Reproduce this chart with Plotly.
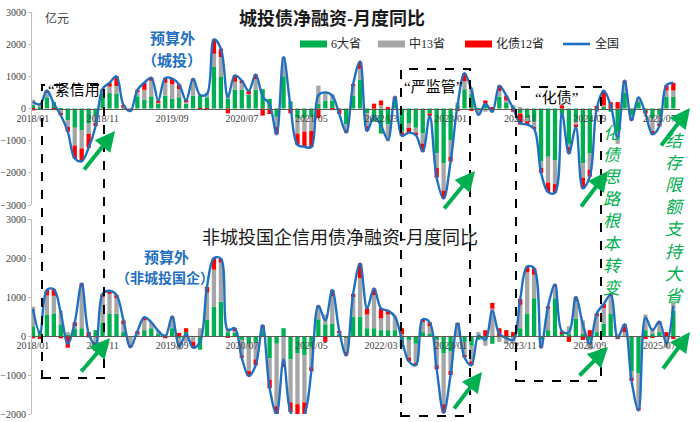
import plotly.graph_objects as go

# ---------------- data (亿元, monthly 2018/01 - 2025/09) ----------------
months = [f"{y}/{m:02d}" for y in range(2018, 2026) for m in range(1, 13)][:93]
tick_labels = ["2018/01", "2018/11", "2019/09", "2020/07", "2021/05",
               "2022/03", "2023/01", "2023/11", "2024/09", "2025/07"]

# 城投债净融资-月度同比
top_g6 = [120, 50, 350, 200, -50, -370, -600, -670, -470, -250,
          450, 480, 450, 0, 0, 380, 280, 380, 150, 400,
          300, 350, 150, 400, 400, 350, 1290, 1000, 300, 590,
          590, 420, 580, 600, 300, -260, 1000, 220, -310, -300,
          -280, 150, 250, 250, 0, -500, 400, 900, -150, -400,
          -780, -500, 250, -720, -450, -600, -780, -150, -1400, -1700,
          -1000, 100, 600, 450, -50, 150, 0, 370, 200, 50,
          -150, -300, -400, -1650, -1500, -1600, -200, -1100, -400, -1700,
          -1400, -50, 50, -100, -700, 500, -200, 200, -100, -300,
          -200, 360, 360]
top_m13 = [150, 60, 150, 0, -100, -200, -550, -570, -320, -200,
           100, 200, 250, 30, -20, 150, 300, 480, 30, 400,
           450, 250, 80, 450, 50, 150, 410, 600, 200, 240,
           200, 30, 330, 0, 0, -310, 600, 0, -470, -420,
           -420, 560, 250, 200, -50, -150, 300, 330, -400, 0,
           100, -520, 0, -30, -150, -150, -310, 0, -450, -850,
           -500, 80, 250, 200, -150, -100, -120, 170, 50, 50,
           50, -100, -200, -200, -800, -750, -50, -100, -100, -450,
           -500, -30, 50, 0, -400, 300, -100, 150, 0, -400,
           -300, 200, 200]
top_h12 = [-60, 20, 60, -50, -60, -150, -400, -400, -430, -100,
           60, 120, 300, 80, -60, 50, 220, 100, 70, 150,
           180, 150, 20, 80, -30, -50, 450, 260, -150, 200,
           80, 100, 150, -220, -170, -230, 0, -150, -350, -470,
           -500, -300, 0, -50, -120, -100, 60, 230, -150, 150,
           150, 50, 120, -100, -150, -80, -250, -80, -300, -250,
           -150, -80, 250, -80, 0, 100, 20, 170, 150, -100,
           -350, -100, -30, -150, -300, -270, 100, -200, -80, -330,
           -220, 80, 450, 200, 200, 70, -70, 0, -60, -100,
           -50, 160, 240]
top_all = [210, 130, 560, 150, -210, -720, -1550, -1640, -1220, -550,
           610, 800, 1000, 110, -80, 580, 800, 960, 250, 950,
           930, 750, 250, 930, 420, 450, 2150, 1860, 350, 1030,
           870, 550, 1060, 380, 130, -800, 1600, 70, -1130, -1190,
           -1200, 410, 500, 400, -170, -750, 760, 1460, -700, -250,
           -530, -970, 370, -850, -750, -830, -1340, -230, -2150, -2800,
           -1650, 100, 1100, 570, -200, 150, -100, 710, 400, 0,
           -450, -500, -630, -2000, -2600, -2620, -150, -1400, -580, -2480,
           -2120, 0, 550, 100, -900, 870, -370, 350, -160, -800,
           -550, 720, 800]

# 非城投国企信用债净融资-月度同比
bot_g6 = [250, 150, 540, 580, 300, 50, 200, 200, 0, 150,
          350, 580, 570, 100, -20, 0, 150, 200, 50, 20,
          200, -50, 100, 0, -350, 410, 750, 880, 100, 100,
          -100, -200, -150, 150, -570, -200, 200, -600, -450, -500,
          -300, 430, 300, 320, 50, -50, 500, 500, 200, 200,
          150, 150, 150, -300, -100, -200, 100, 50, -100, -450,
          -400, 0, -150, -250, -100, -50, -200, 0, 0, 0,
          200, 580, 970, -100, 150, 970, 50, 50, 450, 50,
          -100, 100, 320, 580, 0, 0, -900, -950, 150, 50,
          100, 0, 650]
bot_m13 = [500, 0, 500, 450, 350, 50, 50, 1060, -30, -250,
           650, 500, 400, 200, -200, 50, 250, 150, 80, 30,
           250, -300, -150, -150, 200, 700, 950, 1000, 100, 50,
           -400, -700, -450, 50, -550, -1600, -700, -1100, -1300, -1200,
           -500, 300, 250, 700, 50, -350, 500, 980, 350, 850,
           300, 400, 350, 50, -450, -500, 250, 200, -650, -1300,
           -500, 300, -350, -400, 100, -200, 700, -150, -200, -200,
           600, 1050, 600, -150, 550, 290, 0, 200, 450, 350,
           -250, 400, 400, 450, 30, 100, -200, -900, 400, 150,
           200, -300, 200]
bot_h12 = [-60, -80, 140, 170, -60, -300, 100, 90, 100, -130,
           80, 80, 80, 100, -70, 70, 80, 0, 0, -60,
           50, 80, 100, -150, 0, 150, 300, 100, -50, 50,
           -60, -130, -150, 80, -220, -200, -100, -250, -450, -300,
           -100, 50, -150, 160, 30, -100, 80, 380, 160, 170,
           260, 100, 0, 150, -100, -50, 80, 100, -100, -220,
           -100, 30, -50, -100, 0, 150, 150, 200, 150, 100,
           150, 150, 170, -50, 60, 60, 70, -150, 100, -100,
           150, 80, 100, 30, -80, 200, -50, -60, -80, -50,
           70, 100, -80]
bot_all = [690, 70, 1180, 1200, 590, -200, 350, 1350, 70, -230,
           1080, 1160, 1050, 400, -290, 120, 480, 350, 130, -10,
           500, -270, 50, -300, -150, 1260, 2000, 1980, 150, 200,
           -560, -1030, -750, 280, -1340, -2000, -600, -1950, -2200, -2000,
           -900, 780, 400, 1180, 130, -500, 1080, 1860, 710, 1220,
           710, 650, 500, -100, -650, -750, 430, 350, -850, -1970,
           -1000, 330, -550, -750, 0, -100, 650, 50, -50, -100,
           950, 1780, 1740, -300, 760, 1320, 120, 100, 1000, 300,
           -200, 580, 820, 1060, -50, 300, -1150, -1910, 470, 150,
           370, -200, 770]

series_names = ["6大省", "中13省", "化债12省", "全国"]

# ---------------- styling ----------------
GREEN, GREY, RED, BLUE = "#00B050", "#A6A6A6", "#FF0000", "#1F70C1"
ARROW = "#00B050"
W, H, L, R = 700, 422, 32, 20


def px(x):
    return (x - L) / (W - L - R)


def py(y):
    return 1 - y / H


fig = go.Figure()
for (g, m, h, tot, xa, ya) in [(top_g6, top_m13, top_h12, top_all, "x", "y"),
                               (bot_g6, bot_m13, bot_h12, bot_all, "x2", "y2")]:
    for vals, col, nm in [(g, GREEN, series_names[0]), (m, GREY, series_names[1]),
                          (h, RED, series_names[2])]:
        fig.add_trace(go.Bar(x=months, y=vals, name=nm, marker_color=col,
                             marker_line_width=0, width=0.62, xaxis=xa, yaxis=ya,
                             showlegend=False))
    fig.add_trace(go.Scatter(x=months, y=tot, name=series_names[3], mode="lines",
                             line=dict(color=BLUE, width=2.4, shape="spline", smoothing=1.0),
                             xaxis=xa, yaxis=ya, showlegend=False))

tickfont = dict(family="Liberation Serif, Noto Sans CJK SC", size=10, color="#404040")
xcommon = dict(type="category", range=[-0.14, 92.96], tickvals=tick_labels, ticktext=tick_labels,
               ticks="", showgrid=False, zeroline=False, showline=True, linecolor="#595959",
               linewidth=1, tickfont=tickfont, anchor="free", domain=[0, 1], automargin=False)
ycommon = dict(dtick=1000, showgrid=False, zeroline=False, showline=True, linecolor="#BFBFBF",
               ticks="outside", ticklen=3, tickcolor="#BFBFBF", tickfont=tickfont,
               automargin=False)

fig.update_layout(
    width=W, height=H, margin=dict(l=L, r=R, t=0, b=0, pad=0, autoexpand=False),
    paper_bgcolor="white", plot_bgcolor="white", barmode="relative",
    xaxis=dict(**xcommon, position=py(108.5)),
    xaxis2=dict(**xcommon, position=py(336)),
    yaxis=dict(**ycommon, domain=[py(205), py(12)], range=[-3000, 3000], anchor="x"),
    yaxis2=dict(**ycommon, domain=[py(414), py(219)], range=[-2000, 3000], anchor="x2"),
    showlegend=False,
)

shapes = []
# dashed boxes
for x0, x1, y0, y1 in [(42, 104, 85, 378), (401, 470, 69, 416), (516, 601, 87, 381)]:
    shapes.append(dict(type="rect", xref="paper", yref="paper", x0=px(x0), x1=px(x1),
                       y0=py(y1), y1=py(y0), line=dict(color="black", width=2, dash="dash"),
                       fillcolor="rgba(0,0,0,0)", layer="above"))
# manual legend keys
for x0, col in [(300, GREEN), (378, GREY), (465, RED)]:
    shapes.append(dict(type="rect", xref="paper", yref="paper", x0=px(x0), x1=px(x0 + 27),
                       y0=py(47.5), y1=py(40.5), line=dict(width=0), fillcolor=col))
shapes.append(dict(type="line", xref="paper", yref="paper", x0=px(563), x1=px(590),
                   y0=py(44), y1=py(44), line=dict(color=BLUE, width=2.6)))
fig.update_layout(shapes=shapes)

CJK = "Liberation Serif, Noto Sans CJK SC"
ann = []


def text(t, x, y, size, color="black", anchor="center", bold=False):
    ann.append(dict(text=(f"<b>{t}</b>" if bold else t), x=px(x), y=py(y), xref="paper",
                    yref="paper", showarrow=False, xanchor=anchor, yanchor="middle",
                    font=dict(family=CJK, size=size, color=color)))


text("亿元", 43, 18, 12, "#404040", "left")
text("城投债净融资-月度同比", 332, 18, 18, "#1a1a1a", bold=True)
text("非城投国企信用债净融资-月度同比", 340, 238, 18, "#1a1a1a")
text("预算外", 172, 38, 15, BLUE, bold=True)
text("（城投）", 172, 60, 15, BLUE, bold=True)
text("预算外", 166, 257, 15, BLUE, bold=True)
text("（非城投国企）", 165, 278, 14, BLUE, bold=True)
text("“紧信用", 46, 90, 15, "black", "left")
text("“严监管”", 433, 87, 15)
text("“化债”", 556, 98, 15)
text(series_names[0], 329, 44, 12, "#262626", "left")
text(series_names[1], 407, 44, 12, "#262626", "left")
text(series_names[2], 494, 44, 12, "#262626", "left")
text(series_names[3], 593, 44, 12, "#262626", "left")

for t, x, y in [("化债思路根本转变", 612, 211), ("结存限额支持大省", 675, 219)]:
    ann.append(dict(text="<i>" + "<br>".join(t) + "</i>", x=px(x), y=py(y), xref="paper",
                    yref="paper", showarrow=False, xanchor="center", yanchor="middle",
                    font=dict(family=CJK, size=17, color=ARROW)))

for (tx, ty, hx, hy) in [(83, 171, 115, 131), (443, 210, 475, 171), (580, 208, 608, 171),
                         (660, 147, 690, 108), (80, 373, 110, 338), (453, 410, 482, 372),
                         (578, 377, 608, 347), (662, 370, 690, 332)]:
    ann.append(dict(text="", x=px(hx), y=py(hy), xref="paper", yref="paper",
                    ax=tx - hx, ay=ty - hy, axref="pixel", ayref="pixel",
                    showarrow=True, arrowhead=2, arrowsize=1.0, arrowwidth=4,
                    arrowcolor=ARROW))
fig.update_layout(annotations=ann)

fig.write_html("out.html", config={"displayModeBar": False},
               post_script="document.body.style.margin='0px';document.body.style.padding='0px';")
